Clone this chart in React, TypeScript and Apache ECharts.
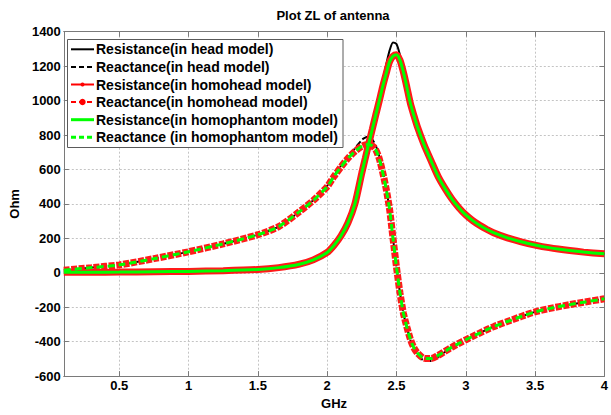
import React, { useEffect, useRef } from "react";
import * as echarts from "echarts";

const freqGHz = [0.1, 0.3, 0.5, 0.75, 1.0, 1.25, 1.5, 1.65, 1.8, 1.9, 2.0, 2.05, 2.1, 2.15, 2.2, 2.25, 2.275, 2.3, 2.325, 2.35, 2.375, 2.4, 2.425, 2.45, 2.475, 2.5, 2.525, 2.55, 2.575, 2.6, 2.625, 2.65, 2.7, 2.75, 2.8, 2.85, 2.9, 2.95, 3.0, 3.05, 3.1, 3.15, 3.2, 3.3, 3.4, 3.5, 3.6, 3.75, 3.85, 4.0];

const resistanceHead = [3, 3, 4, 6, 8, 12, 19, 30, 50, 75, 118, 160, 215, 290, 405, 595, 672, 750, 828, 905, 1005, 1110, 1205, 1290, 1338, 1328, 1265, 1175, 1085, 985, 910, 845, 742, 650, 560, 490, 428, 378, 336, 303, 276, 253, 233, 203, 180, 161, 146, 129, 120, 110];
const reactanceHead = [15, 30, 46, 82, 122, 168, 221, 268, 355, 422, 505, 565, 622, 678, 722, 772, 785, 790, 775, 740, 680, 595, 495, 365, 200, 33, -115, -235, -318, -390, -440, -475, -510, -512, -488, -460, -435, -412, -390, -369, -350, -331, -313, -283, -254, -227, -208, -185, -171, -151];
const resistanceHomohead = [3, 3, 4, 6, 8, 12, 19, 30, 50, 75, 118, 160, 215, 290, 400, 580, 665, 750, 832, 915, 995, 1080, 1155, 1225, 1258, 1266, 1235, 1165, 1078, 985, 915, 850, 742, 650, 560, 490, 428, 378, 336, 303, 276, 253, 233, 203, 180, 161, 146, 129, 120, 110];
const reactanceHomohead = [15, 30, 46, 82, 122, 168, 221, 268, 355, 420, 500, 560, 615, 665, 705, 735, 743, 745, 738, 715, 665, 585, 490, 370, 200, 33, -115, -235, -315, -385, -435, -465, -497, -498, -480, -456, -432, -410, -389, -369, -350, -331, -313, -283, -254, -227, -208, -185, -171, -151];
const resistanceHomophantom = [3, 3, 4, 6, 8, 12, 19, 30, 50, 75, 118, 160, 215, 290, 400, 580, 665, 750, 832, 915, 995, 1080, 1155, 1225, 1258, 1266, 1235, 1165, 1078, 985, 915, 850, 742, 650, 560, 490, 428, 378, 336, 303, 276, 253, 233, 203, 180, 161, 146, 129, 120, 110];
const reactanceHomophantom = [15, 30, 46, 82, 122, 168, 221, 268, 355, 420, 500, 560, 615, 665, 705, 735, 743, 745, 738, 715, 665, 585, 490, 370, 200, 33, -115, -235, -315, -385, -435, -465, -497, -498, -480, -456, -432, -410, -389, -369, -350, -331, -313, -283, -254, -227, -208, -185, -171, -151];

const seriesNames = [
  "Resistance(in head model)",
  "Reactance(in head model)",
  "Resistance(in homohead model)",
  "Reactance(in homohead model)",
  "Resistance(in homophantom model)",
  "Reactance (in homophantom model)",
];

const titleText = "Plot ZL of antenna";
const xName = "GHz";
const yName = "Ohm";

const FONT = "'Liberation Sans', Arial, Helvetica, sans-serif";

function pairs(vals: number[]) {
  return freqGHz.map((f, i) => [f, vals[i]]);
}

export default function App() {
  const ref = useRef<HTMLDivElement>(null);
  useEffect(() => {
    const chart = echarts.init(ref.current!, null, { renderer: "svg" });
    const gridLeft = 57.4;
    const gridTop = 31.7;
    const gridRight = 2.7;
    const gridBottom = 35;
    const axisColor = "#7a7a7a";
    const splitStyle = { show: true, lineStyle: { color: "#c4c4c4", type: [2, 2] as any, width: 1 } };
    const labelStyle = { color: "#000", fontWeight: "bold" as const, fontSize: 13, fontFamily: FONT };

    const lgX = 67.5, lgY = 39.5, lgW = 275.5, lgH = 108;
    const rowY = [49.3, 66.9, 84.5, 102.1, 119.7, 137.3];
    const lineX1 = 71, lineX2 = 94;
    const legendStyles = [
      { color: "#000", width: 2, dash: null, dot: 0 },
      { color: "#000", width: 2, dash: [5, 3], dot: 0 },
      { color: "#ff0000", width: 2, dash: null, dot: 2 },
      { color: "#ff0000", width: 2, dash: [5, 3], dot: 3.2 },
      { color: "#00ff00", width: 3, dash: null, dot: 0 },
      { color: "#00ff00", width: 3, dash: [5, 3], dot: 0 },
    ];
    const legendEls: any[] = [
      {
        type: "rect",
        shape: { x: lgX, y: lgY, width: lgW, height: lgH },
        style: { fill: "#fff", stroke: "#5a5a5a", lineWidth: 1 },
        z: 100,
      },
    ];
    seriesNames.forEach((name, i) => {
      const s = legendStyles[i];
      legendEls.push({
        type: "line",
        shape: { x1: lineX1, y1: rowY[i], x2: lineX2, y2: rowY[i] },
        style: { stroke: s.color, lineWidth: s.width, lineDash: s.dash || undefined },
        z: 101,
      });
      if (s.dot) {
        legendEls.push({
          type: "circle",
          shape: { cx: (lineX1 + lineX2) / 2, cy: rowY[i], r: s.dot },
          style: { fill: s.color },
          z: 102,
        });
      }
      legendEls.push({
        type: "text",
        x: 96,
        y: rowY[i],
        style: { text: name, fill: "#000", font: `bold 14px ${FONT}`, verticalAlign: "middle", textAlign: "left" },
        z: 102,
      });
    });
    legendEls.push({
      type: "text",
      x: 333,
      y: 15,
      style: { text: titleText, fill: "#000", font: `bold 13px ${FONT}`, verticalAlign: "middle", textAlign: "center" },
      z: 102,
    });

    const common = { type: "line" as const, showSymbol: false, symbol: "none", smooth: 0.25 };

    chart.setOption({
      animation: false,
      backgroundColor: "#fff",
      grid: { left: gridLeft, top: gridTop, right: gridRight, bottom: gridBottom, containLabel: false },
      xAxis: [
        {
          type: "value",
          min: 0.1,
          max: 4,
          splitNumber: 8,
          position: "bottom",
          name: xName,
          nameLocation: "middle",
          nameGap: 17,
          nameTextStyle: { ...labelStyle },
          axisLine: { show: true, onZero: false, lineStyle: { color: axisColor, width: 1 } },
          axisTick: { show: true, inside: true, length: 5, lineStyle: { color: axisColor } },
          axisLabel: {
            ...labelStyle,
            margin: 3,
            showMinLabel: false,
            formatter: (v: number) => (Math.abs(v * 2 - Math.round(v * 2)) < 1e-6 ? String(Math.round(v * 10) / 10) : ""),
          },
          splitLine: splitStyle,
        },
        {
          type: "value",
          min: 0.1,
          max: 4,
          splitNumber: 8,
          position: "top",
          axisLine: { show: true, onZero: false, lineStyle: { color: axisColor, width: 1 } },
          axisTick: { show: true, inside: true, length: 5, lineStyle: { color: axisColor } },
          axisLabel: { show: false },
          splitLine: { show: false },
        },
      ],
      yAxis: [
        {
          type: "value",
          min: -600,
          max: 1400,
          interval: 200,
          position: "left",
          name: yName,
          nameLocation: "middle",
          nameGap: 34,
          nameTextStyle: { ...labelStyle },
          axisLine: { show: true, onZero: false, lineStyle: { color: axisColor, width: 1 } },
          axisTick: { show: true, inside: true, length: 5, lineStyle: { color: axisColor } },
          axisLabel: { ...labelStyle, margin: 3, formatter: (v: number) => String(v) },
          splitLine: splitStyle,
        },
        {
          type: "value",
          min: -600,
          max: 1400,
          interval: 200,
          position: "right",
          axisLine: { show: true, onZero: false, lineStyle: { color: axisColor, width: 1 } },
          axisTick: { show: true, inside: true, length: 5, lineStyle: { color: axisColor } },
          axisLabel: { show: false },
          splitLine: { show: false },
        },
      ],
      graphic: legendEls,
      series: [
        { ...common, name: seriesNames[0], data: pairs(resistanceHead), lineStyle: { color: "#000", width: 2 }, z: 2 },
        { ...common, name: seriesNames[1], data: pairs(reactanceHead), lineStyle: { color: "#000", width: 2, type: [6, 3] }, z: 2 },
        { ...common, name: seriesNames[2], data: pairs(resistanceHomohead), lineStyle: { color: "#ff1a1a", width: 7 }, z: 3 },
        { ...common, name: seriesNames[3], data: pairs(reactanceHomohead), lineStyle: { color: "#ff1a1a", width: 7, type: [6, 1.5] }, z: 3 },
        { ...common, name: seriesNames[4], data: pairs(resistanceHomophantom), lineStyle: { color: "#00ff00", width: 3 }, z: 4 },
        { ...common, name: seriesNames[5], data: pairs(reactanceHomophantom), lineStyle: { color: "#00ff00", width: 3, type: [7, 4] }, z: 4 },
      ],
    });
    return () => chart.dispose();
  }, []);
  return <div ref={ref} style={{ position: "fixed", left: 0, top: 0, width: 611, height: 415 }} />;
}
